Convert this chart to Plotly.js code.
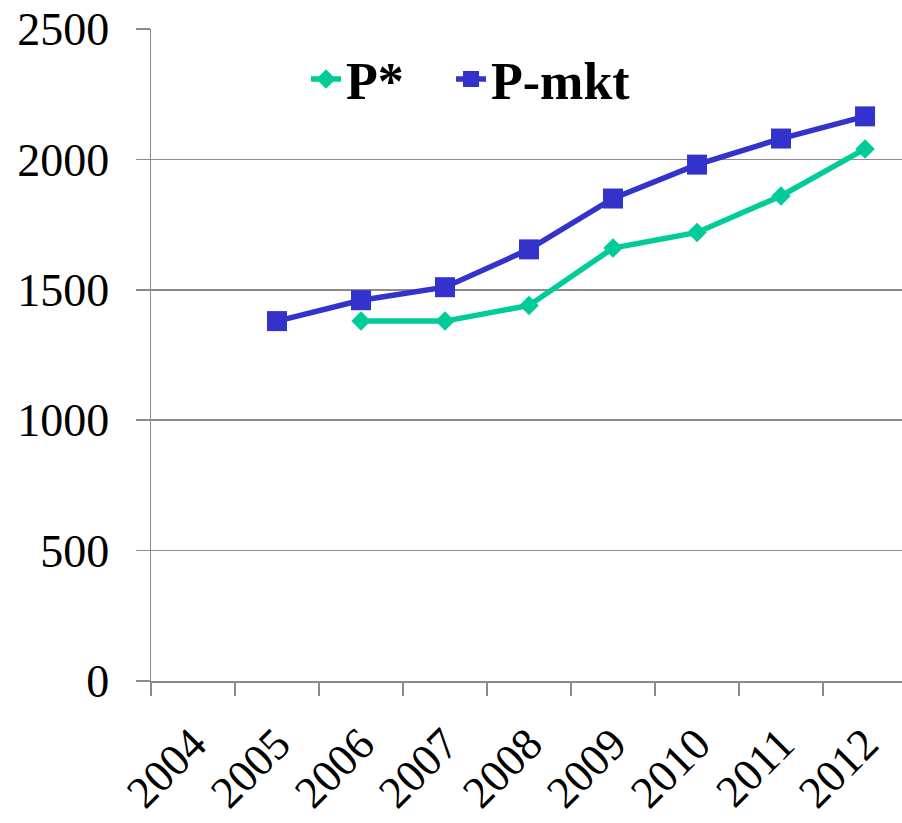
<!DOCTYPE html>
<html>
<head>
<meta charset="utf-8">
<script src="https://cdn.plot.ly/plotly-3.0.1.min.js"></script>
<style>
html,body{margin:0;padding:0;background:#fff;overflow:hidden;}
#chart{width:902px;height:823px;}
</style>
</head>
<body>
<div id="chart"></div>
<script>
const years = ['2004','2005','2006','2007','2008','2009','2010','2011','2012'];
const pStar = [null, null, 1380, 1380, 1440, 1660, 1720, 1860, 2040];
const pMkt  = [null, 1380, 1460, 1510, 1655, 1850, 1980, 2080, 2165];
const yTicks = [0, 500, 1000, 1500, 2000, 2500];

const serif = 'Liberation Serif';
const legendFont = {family: serif, size: 52, color: '#000', weight: 'bold'};

const traces = [
  {
    x: years, y: pStar, name: 'P*', type: 'scatter', mode: 'lines+markers',
    line: {color: '#00CC99', width: 5.5},
    marker: {symbol: 'diamond', size: 15, color: '#00CC99'},
    connectgaps: false, legend: 'legend'
  },
  {
    x: years, y: pMkt, name: 'P-mkt', type: 'scatter', mode: 'lines+markers',
    line: {color: '#3333CC', width: 5.5},
    marker: {symbol: 'square', size: 20, color: '#3333CC'},
    connectgaps: false, legend: 'legend2'
  }
];

const layout = {
  width: 902, height: 823,
  margin: {l: 151, r: 0, t: 29, b: 142},
  paper_bgcolor: '#fff', plot_bgcolor: '#fff',
  showlegend: true,
  legend: {
    orientation: 'h', x: 0.2064, y: 0.985, xanchor: 'left', yanchor: 'top',
    font: legendFont, bgcolor: 'rgba(0,0,0,0)'
  },
  legend2: {
    orientation: 'h', x: 0.3995, y: 0.985, xanchor: 'left', yanchor: 'top',
    font: legendFont, bgcolor: 'rgba(0,0,0,0)'
  },
  xaxis: {
    type: 'category', categoryorder: 'array', categoryarray: years,
    range: [-0.5, 8.44],
    tickson: 'boundaries', ticks: 'outside', ticklen: 13, tickwidth: 1.5, tickcolor: '#8c8c8c',
    showline: true, linecolor: '#8c8c8c', linewidth: 1.5,
    showgrid: false, zeroline: false,
    tickangle: -45, ticklabelstandoff: 17,
    tickfont: {family: serif, size: 45, color: '#000'}
  },
  yaxis: {
    range: [0, 2500], tickvals: yTicks, ticktext: yTicks.map(String),
    ticks: 'outside', ticklen: 14, tickwidth: 1.5, tickcolor: '#8c8c8c',
    showline: true, linecolor: '#8c8c8c', linewidth: 1.5,
    showgrid: true, gridcolor: '#8c8c8c', gridwidth: 1.5, zeroline: false,
    ticklabelstandoff: 17,
    tickfont: {family: serif, size: 46, color: '#000'}
  }
};

Plotly.newPlot('chart', traces, layout, {displayModeBar: false, staticPlot: true});
</script>
</body>
</html>
